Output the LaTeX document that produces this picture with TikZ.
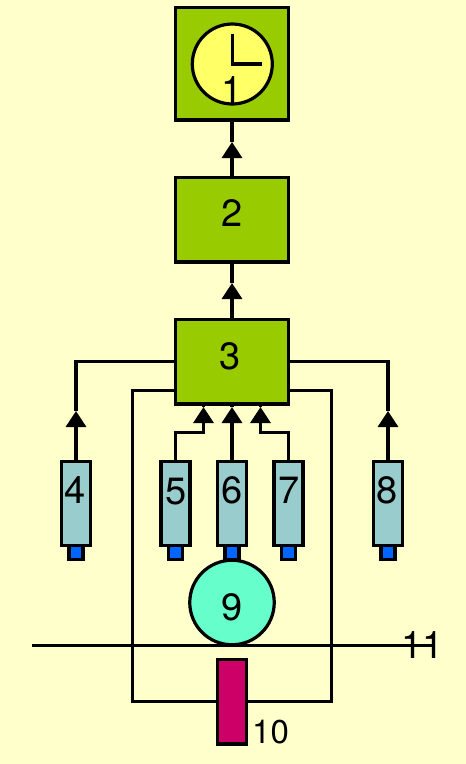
\documentclass[tikz,border=0pt]{standalone}
\usepackage{fontspec}
\setmainfont{TeX Gyre Heros}
\usetikzlibrary{arrows.meta}
\definecolor{bgc}{HTML}{FFFFCC}
\definecolor{greenc}{HTML}{99CC00}
\definecolor{yellowc}{HTML}{FFFF66}
\definecolor{tealc}{HTML}{99CCCC}
\definecolor{bluec}{HTML}{0066FF}
\definecolor{aquac}{HTML}{66FFCC}
\definecolor{redc}{HTML}{CC0066}
\tikzset{
  wire/.style={line width=3.2pt,line cap=butt,line join=miter},
  arrowwire/.style={wire,-{Triangle[width=20pt,length=16pt]}},
  box/.style={draw=black,line width=3.2pt,inner sep=0pt,outer sep=0pt,rectangle},
  mainbox/.style={box,fill=greenc,minimum width=113pt},
  sensor/.style={box,fill=tealc,minimum width=29pt,minimum height=84pt},
  tip/.style={box,fill=bluec,minimum width=14pt,minimum height=14pt},
  lab/.style={inner sep=0pt,font=\fontsize{38}{38}\selectfont,text=black},
  labsmall/.style={inner sep=0pt,font=\fontsize{33}{33}\selectfont,text=black},
}
\begin{document}
\begin{tikzpicture}[x=1pt,y=-1pt]
\useasboundingbox[fill=bgc] (0,0) rectangle (466,764);
% coordinates of the routing
\coordinate (t1) at (232,142);
\coordinate (t2) at (232,283);
\coordinate (t4) at (76,411);
\coordinate (t5) at (203.5,407);
\coordinate (t6) at (232,407);
\coordinate (t7) at (260.5,407);
\coordinate (t8) at (388,411);
\coordinate (c4) at (76,361.5);
\coordinate (c8) at (388,361.5);
\coordinate (d5) at (175.5,432.5);
\coordinate (e5) at (203.5,432.5);
\coordinate (d7) at (288.5,432.5);
\coordinate (e7) at (260.5,432.5);
\coordinate (fl) at (132.5,390.5);
\coordinate (fr) at (331.5,390.5);
\coordinate (gl) at (132.5,701.5);
\coordinate (gr) at (331.5,701.5);
\coordinate (ba) at (32,645.5);
\coordinate (bb) at (432,645.5);
% boxes
\node[mainbox,minimum height=112.5pt] (b1) at (232,63.75) {};
\node[mainbox,minimum height=84.5pt] (b2) at (232,219.75) {};
\node[mainbox,minimum height=84.5pt] (b3) at (232,361.75) {};
\node[sensor] (s4) at (76,503.5) {};
\node[sensor] (s5) at (175.5,503.5) {};
\node[sensor] (s6) at (232,503.5) {};
\node[sensor] (s7) at (288.5,503.5) {};
\node[sensor] (s8) at (388,503.5) {};
\node[tip,anchor=north] (p4) at (s4.south) {};
\node[tip,anchor=north] (p5) at (s5.south) {};
\node[tip,anchor=north] (p6) at (s6.south) {};
\node[tip,anchor=north] (p7) at (s7.south) {};
\node[tip,anchor=north] (p8) at (s8.south) {};
% connectors
\draw[arrowwire] (b2.north) -- (t1);
\draw[wire] (t1) -- (b1.south);
\draw[arrowwire] (b3.north) -- (t2);
\draw[wire] (t2) -- (b2.south);
\draw[wire] (b3.west |- c4) -- (c4) -- (t4);
\draw[arrowwire] (s4.north) -- (t4);
\draw[wire] (b3.east |- c8) -- (c8) -- (t8);
\draw[arrowwire] (s8.north) -- (t8);
\draw[arrowwire] (s5.north) -- (d5) -- (e5) -- (t5);
\draw[arrowwire] (s6.north) -- (t6);
\draw[arrowwire] (s7.north) -- (d7) -- (e7) -- (t7);
\draw[wire] (t5) -- (t5 |- b3.south);
\draw[wire] (t6) -- (b3.south);
\draw[wire] (t7) -- (t7 |- b3.south);
% clock, wheel, actuator
\node[draw=black,line width=3.2pt,circle,fill=yellowc,minimum size=80pt,inner sep=0pt] (clock) at (232.3,64) {};
\coordinate (h1) at (232.3,34);
\coordinate (h2) at (261.7,64);
\draw[wire] (h1) -- (clock.center) -- (h2);
\node[draw=black,line width=3.2pt,circle,fill=aquac,minimum size=84.5pt,inner sep=0pt] (wheel) at (232,602.5) {};
\node[box,fill=redc,minimum width=29pt,minimum height=84.5pt] (act) at (232,701.75) {};
\draw[wire] (b3.west |- fl) -- (fl) -- (gl) -- (act.west |- gl);
\draw[wire] (b3.east |- fr) -- (fr) -- (gr) -- (act.east |- gr);
% labels
\node[lab] (l1) at (232.5,90) {1};
\node[lab] (l2) at (232.5,213) {2};
\node[lab] (l3) at (230,356.5) {3};
\node[lab] (l4) at (75,490.5) {4};
\node[lab] (l5) at (176,492) {5};
\node[lab] (l6) at (232,490.5) {6};
\node[lab] (l7) at (289,490.5) {7};
\node[lab] (l8) at (387.5,490.5) {8};
\node[lab] (l9) at (232,607) {9};
\node[labsmall] (l10) at (270.5,732) {10};
\node[lab] (l11) at (422.5,645) {11};
\draw[wire] (ba) -- (bb);
\end{tikzpicture}
\end{document}
